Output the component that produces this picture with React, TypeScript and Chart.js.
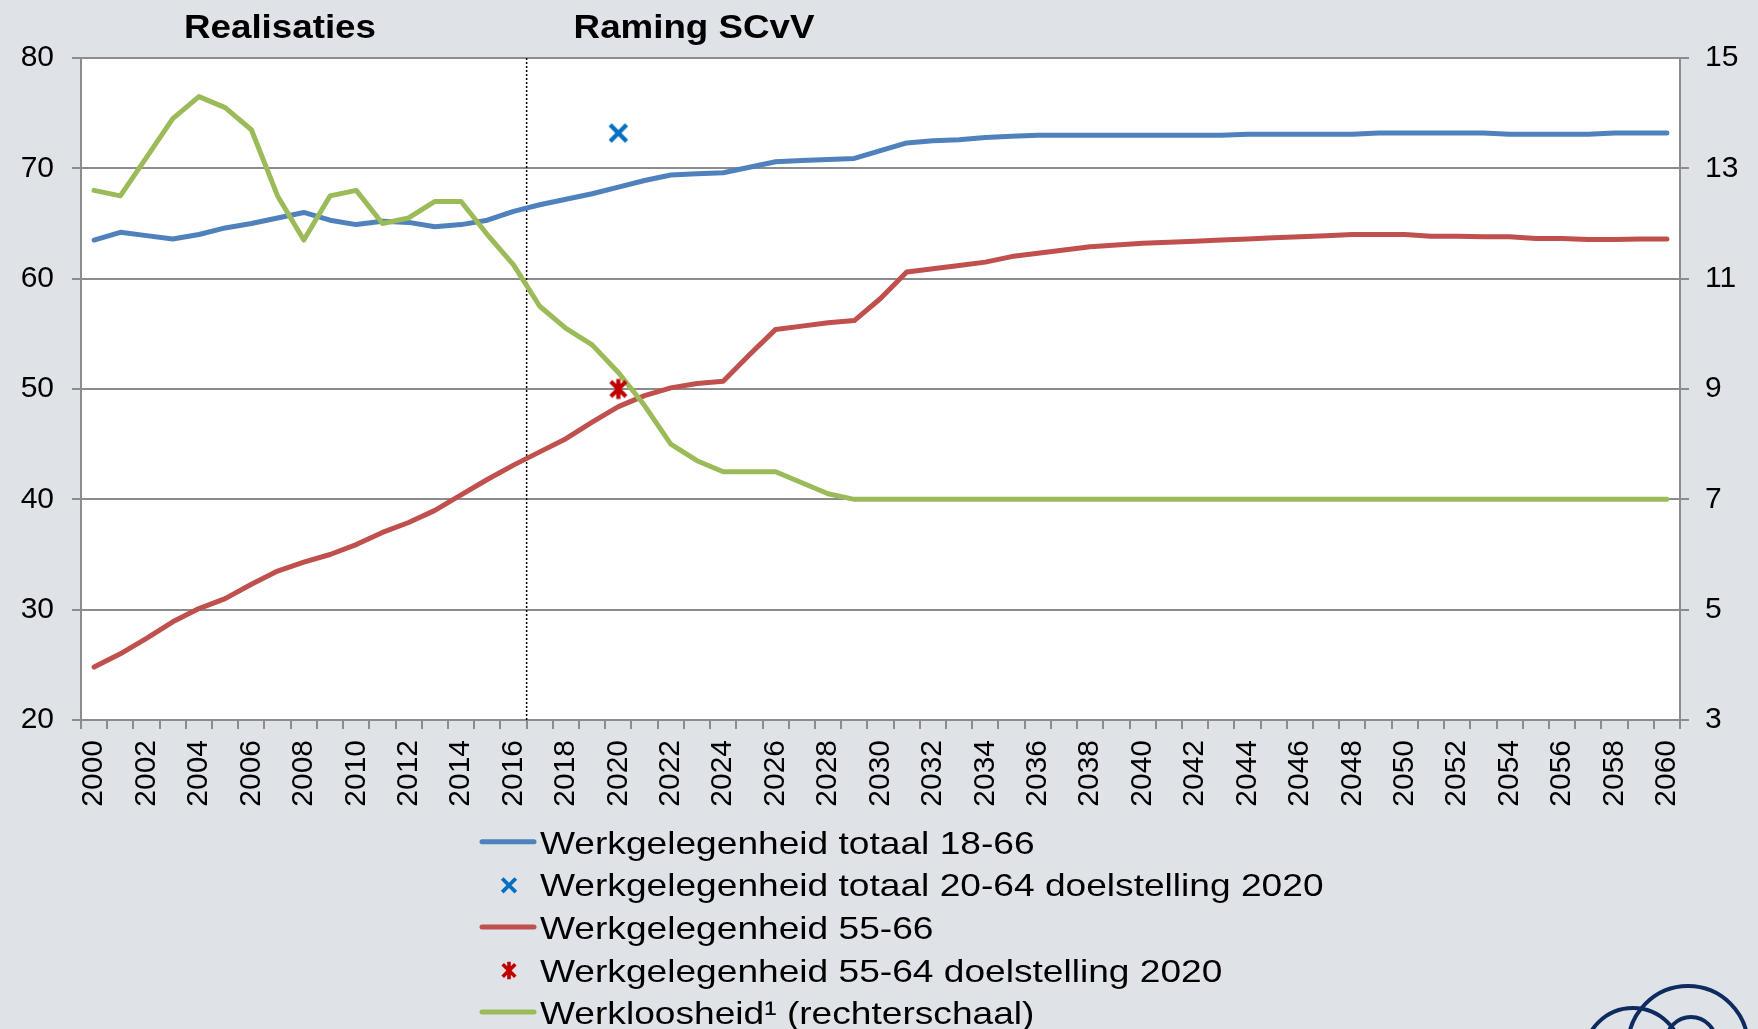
import React, { useEffect, useRef } from 'react';
import { Chart, registerables } from 'chart.js';

Chart.register(...registerables);

// ---------- DATA ----------
const years: number[] = [
  2000, 2001, 2002, 2003, 2004, 2005, 2006, 2007, 2008, 2009,
  2010, 2011, 2012, 2013, 2014, 2015, 2016, 2017, 2018, 2019,
  2020, 2021, 2022, 2023, 2024, 2025, 2026, 2027, 2028, 2029,
  2030, 2031, 2032, 2033, 2034, 2035, 2036, 2037, 2038, 2039,
  2040, 2041, 2042, 2043, 2044, 2045, 2046, 2047, 2048, 2049,
  2050, 2051, 2052, 2053, 2054, 2055, 2056, 2057, 2058, 2059, 2060,
];

// Werkgelegenheid totaal 18-66 (left axis, %)
const employmentTotal: number[] = [
  63.5, 64.2, 63.9, 63.6, 64.0, 64.6, 65.0, 65.5, 66.0, 65.3,
  64.9, 65.2, 65.1, 64.7, 64.9, 65.3, 66.1, 66.7, 67.2, 67.7,
  68.3, 68.9, 69.4, 69.5, 69.6, 70.1, 70.6, 70.7, 70.8, 70.9,
  71.6, 72.3, 72.5, 72.6, 72.8, 72.9, 73.0, 73.0, 73.0, 73.0,
  73.0, 73.0, 73.0, 73.0, 73.1, 73.1, 73.1, 73.1, 73.1, 73.2,
  73.2, 73.2, 73.2, 73.2, 73.1, 73.1, 73.1, 73.1, 73.2, 73.2, 73.2,
];

// Werkgelegenheid 55-66 (left axis, %)
const employmentOlder: number[] = [
  24.8, 26.0, 27.4, 28.9, 30.1, 31.0, 32.3, 33.5, 34.3, 35.0,
  35.9, 37.0, 37.9, 39.0, 40.4, 41.8, 43.1, 44.3, 45.5, 47.0,
  48.4, 49.4, 50.1, 50.5, 50.7, 53.1, 55.4, 55.7, 56.0, 56.2,
  58.2, 60.6, 60.9, 61.2, 61.5, 62.0, 62.3, 62.6, 62.9, 63.05,
  63.2, 63.3, 63.4, 63.5, 63.6, 63.7, 63.8, 63.9, 64.0, 64.0,
  64.0, 63.85, 63.85, 63.8, 63.8, 63.65, 63.65, 63.55, 63.55, 63.6, 63.6,
];

// Werkloosheid (right axis, %)
const unemployment: number[] = [
  12.6, 12.5, 13.2, 13.9, 14.3, 14.1, 13.7, 12.5, 11.7, 12.5,
  12.6, 12.0, 12.1, 12.4, 12.4, 11.8, 11.25, 10.5, 10.1, 9.8,
  9.3, 8.7, 8.0, 7.7, 7.5, 7.5, 7.5, 7.3, 7.1, 7.0,
  7.0, 7.0, 7.0, 7.0, 7.0, 7.0, 7.0, 7.0, 7.0, 7.0,
  7.0, 7.0, 7.0, 7.0, 7.0, 7.0, 7.0, 7.0, 7.0, 7.0,
  7.0, 7.0, 7.0, 7.0, 7.0, 7.0, 7.0, 7.0, 7.0, 7.0, 7.0,
];

const targetYear = 2020;
const targetTotal2064 = 73.2; // Werkgelegenheid totaal 20-64 doelstelling 2020
const targetOlder5564 = 50; // Werkgelegenheid 55-64 doelstelling 2020
const forecastStartYear = 2017; // dotted separator between realisations and forecast

const leftAxis = { min: 20, max: 80, step: 10 };
const rightAxis = { min: 3, max: 15, step: 2 };

const seriesLabels: string[] = [
  'Werkgelegenheid totaal 18-66',
  'Werkgelegenheid totaal 20-64 doelstelling 2020',
  'Werkgelegenheid 55-66',
  'Werkgelegenheid 55-64 doelstelling 2020',
  'Werkloosheid¹ (rechterschaal)',
];
const headerLabels: string[] = ['Realisaties', 'Raming SCvV'];

// ---------- STYLE ----------
const BG = '#dfe3e8';
const GRID = '#8c8c8c';
const BLUE = '#4f81bd';
const RED = '#c0504d';
const GREEN = '#9bbb59';
const BLUE_MARK = '#0070c0';
const RED_MARK = '#c00000';
const FONT = "'Liberation Sans', Arial, Helvetica, sans-serif";

function drawMarker(
  ctx: CanvasRenderingContext2D,
  kind: string,
  cx: number,
  cy: number,
  r: number,
  color: string,
  lw: number,
) {
  ctx.save();
  ctx.strokeStyle = color;
  ctx.lineWidth = lw;
  ctx.lineCap = 'butt';
  ctx.beginPath();
  ctx.moveTo(cx - r, cy - r);
  ctx.lineTo(cx + r, cy + r);
  ctx.moveTo(cx + r, cy - r);
  ctx.lineTo(cx - r, cy + r);
  if (kind === 'star') {
    ctx.moveTo(cx, cy - r - 2.5);
    ctx.lineTo(cx, cy + r + 2.5);
  }
  ctx.stroke();
  ctx.restore();
}

function makeMarkerCanvas(kind: string, r: number, color: string, lw: number) {
  const c = document.createElement('canvas');
  const s = Math.ceil(2 * (r + 2.5 + lw));
  c.width = s;
  c.height = s;
  const cx = c.getContext('2d')!;
  drawMarker(cx, kind, s / 2, s / 2, r, color, lw);
  return c;
}

const legendKinds = ['line', 'x', 'line', 'star', 'line'];

export default function App() {
  const ref = useRef<HTMLCanvasElement>(null);

  useEffect(() => {
    document.body.style.margin = '0';
    const canvas = ref.current!;
    const blueX = makeMarkerCanvas('x', 8.2, BLUE_MARK, 4.4);
    const redStar = makeMarkerCanvas('star', 7.6, RED_MARK, 4.2);

    const labels = years.map(String);

    const bgPlugin = {
      id: 'bgPlugin',
      beforeDraw(chart: any) {
        const { ctx, chartArea: a } = chart;
        ctx.save();
        ctx.fillStyle = BG;
        ctx.fillRect(0, 0, chart.width, chart.height);
        ctx.fillStyle = '#ffffff';
        ctx.fillRect(a.left, a.top, a.right - a.left, a.bottom - a.top);
        ctx.restore();
      },
      beforeDatasetsDraw(chart: any) {
        const { ctx, chartArea: a } = chart;
        const xs = chart.scales.x;
        const i = years.indexOf(forecastStartYear);
        const px = (xs.getPixelForValue(i - 1) + xs.getPixelForValue(i)) / 2;
        ctx.save();
        ctx.strokeStyle = '#000';
        ctx.lineWidth = 1.5;
        ctx.setLineDash([2, 2]);
        ctx.beginPath();
        ctx.moveTo(px, a.top);
        ctx.lineTo(px, a.bottom);
        ctx.stroke();
        ctx.restore();
      },
      afterDraw(chart: any) {
        const { ctx } = chart;
        // headers
        ctx.save();
        ctx.fillStyle = '#000';
        ctx.font = `bold 34px ${FONT}`;
        ctx.textAlign = 'center';
        ctx.textBaseline = 'alphabetic';
        const headerX = [280, 694];
        headerLabels.forEach((t, k) => {
          ctx.save();
          ctx.translate(headerX[k], 38);
          ctx.scale(1.08, 1);
          ctx.fillText(t, 0, 0);
          ctx.restore();
        });
        ctx.restore();

        // legend (single column)
        const ds = chart.data.datasets;
        const rowY0 = 841.7;
        const rowDY = 42.6;
        ctx.save();
        ctx.font = `32px ${FONT}`;
        ctx.fillStyle = '#000';
        ctx.textAlign = 'left';
        ctx.textBaseline = 'alphabetic';
        ds.forEach((d: any, k: number) => {
          const y = rowY0 + k * rowDY;
          const kind = legendKinds[k];
          if (kind === 'line') {
            ctx.save();
            ctx.strokeStyle = d.borderColor;
            ctx.lineWidth = 5;
            ctx.lineCap = 'round';
            ctx.beginPath();
            ctx.moveTo(482, y);
            ctx.lineTo(534, y);
            ctx.stroke();
            ctx.restore();
          } else if (kind === 'x') {
            drawMarker(ctx, 'x', 509, y + 1, 6.8, BLUE_MARK, 3.8);
          } else {
            drawMarker(ctx, 'star', 509, y + 1, 6.3, RED_MARK, 3.6);
          }
          ctx.save();
          ctx.translate(540, y + 12);
          ctx.scale(1.16, 1);
          ctx.fillText(d.label, 0, 0);
          ctx.restore();
        });
        ctx.restore();

        // logo arcs (bottom right)
        ctx.save();
        ctx.strokeStyle = '#0d2b5e';
        ctx.lineWidth = 4;
        ctx.beginPath();
        ctx.arc(1688, 1046, 60, 0, Math.PI * 2);
        ctx.stroke();
        ctx.beginPath();
        ctx.arc(1633, 1057, 49, 0, Math.PI * 2);
        ctx.stroke();
        ctx.beginPath();
        ctx.arc(1691, 1042, 25, 0, Math.PI * 2);
        ctx.stroke();
        ctx.restore();
      },
    };

    const tickFont = { family: FONT, size: 30 };

    const chart = new Chart(canvas, {
      type: 'line',
      data: {
        labels,
        datasets: [
          {
            label: seriesLabels[0],
            data: employmentTotal,
            yAxisID: 'y',
            borderColor: BLUE,
            backgroundColor: BLUE,
            borderWidth: 5,
            pointRadius: 0,
            tension: 0,
            borderJoinStyle: 'round',
            borderCapStyle: 'round',
            order: 4,
          },
          {
            label: seriesLabels[1],
            data: years.map((y) => (y === targetYear ? targetTotal2064 : null)),
            yAxisID: 'y',
            showLine: false,
            borderColor: BLUE_MARK,
            backgroundColor: BLUE_MARK,
            pointStyle: blueX,
            pointRadius: 10,
            order: 0,
          },
          {
            label: seriesLabels[2],
            data: employmentOlder,
            yAxisID: 'y',
            borderColor: RED,
            backgroundColor: RED,
            borderWidth: 5,
            pointRadius: 0,
            tension: 0,
            borderJoinStyle: 'round',
            borderCapStyle: 'round',
            order: 3,
          },
          {
            label: seriesLabels[3],
            data: years.map((y) => (y === targetYear ? targetOlder5564 : null)),
            yAxisID: 'y',
            showLine: false,
            borderColor: RED_MARK,
            backgroundColor: RED_MARK,
            pointStyle: redStar,
            pointRadius: 10,
            order: 1,
          },
          {
            label: seriesLabels[4],
            data: unemployment,
            yAxisID: 'y2',
            borderColor: GREEN,
            backgroundColor: GREEN,
            borderWidth: 5,
            pointRadius: 0,
            tension: 0,
            borderJoinStyle: 'round',
            borderCapStyle: 'round',
            order: 2,
          },
        ],
      } as any,
      options: {
        responsive: false,
        animation: false,
        devicePixelRatio: 1,
        events: [],
        layout: { padding: { top: 58, left: 0, right: 0, bottom: 0 } },
        plugins: {
          legend: { display: false },
          tooltip: { enabled: false },
          title: { display: false },
        },
        scales: {
          x: {
            type: 'category',
            offset: true,
            grid: {
              offset: true,
              drawOnChartArea: false,
              drawTicks: true,
              tickLength: 9,
              color: GRID,
              lineWidth: 2,
            },
            border: { display: true, color: GRID, width: 2 },
            ticks: {
              autoSkip: false,
              maxRotation: 90,
              minRotation: 90,
              padding: 11,
              color: '#000',
              font: tickFont,
              callback: (_v: any, i: number) => (i % 2 === 0 ? labels[i] : ''),
            },
            afterFit: (s: any) => {
              s.height = 309;
            },
          },
          y: {
            position: 'left',
            min: leftAxis.min,
            max: leftAxis.max,
            grid: { color: GRID, lineWidth: 2, tickLength: 9, drawTicks: true },
            border: { display: true, color: GRID, width: 2 },
            ticks: { stepSize: leftAxis.step, padding: 18, color: '#000', font: tickFont },
            afterFit: (s: any) => {
              s.width = 81;
            },
          },
          y2: {
            position: 'right',
            min: rightAxis.min,
            max: rightAxis.max,
            grid: { drawOnChartArea: false, color: GRID, lineWidth: 2, tickLength: 9, drawTicks: true },
            border: { display: true, color: GRID, width: 2 },
            ticks: { stepSize: rightAxis.step, padding: 16, color: '#000', font: tickFont },
            afterFit: (s: any) => {
              s.width = 78;
            },
          },
        },
      } as any,
      plugins: [bgPlugin],
    });

    return () => chart.destroy();
  }, []);

  return <canvas ref={ref} width={1758} height={1029} style={{ display: 'block' }} />;
}
